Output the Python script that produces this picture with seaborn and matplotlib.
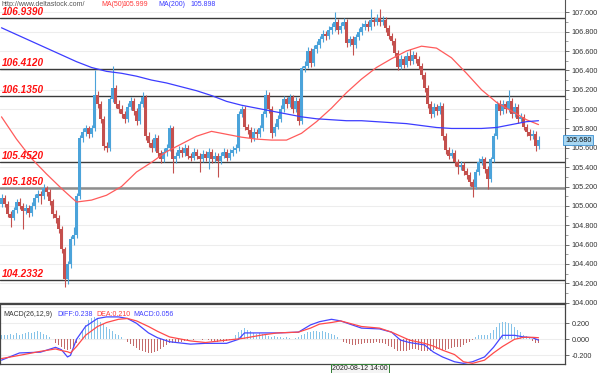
import numpy as np
import pandas as pd
import matplotlib
matplotlib.use("Agg")
import matplotlib.pyplot as plt
import seaborn as sns

# --- bougies (H1) : cloture, plus haut, plus bas ; ouverture = cloture precedente
first_open = 105.02
closes = [105.08, 105.02, 104.92, 104.88, 104.96, 105.04, 105.00, 104.95, 104.98, 104.93,
          105.00, 105.08, 105.12, 105.10, 105.18, 105.14, 105.05, 104.92, 104.88, 104.76,
          104.55, 104.24, 104.40, 104.66, 104.70, 105.10, 105.70, 105.76, 105.80, 105.74,
          105.80, 106.15, 106.05, 105.90, 105.62, 105.60, 106.10, 106.22, 106.05, 106.00,
          105.95, 105.90, 106.02, 106.08, 105.98, 105.88, 106.05, 106.12, 105.72, 105.65,
          105.60, 105.70, 105.55, 105.48, 105.56, 105.60, 105.80, 105.48, 105.52, 105.58,
          105.55, 105.60, 105.52, 105.50, 105.56, 105.52, 105.48, 105.54, 105.50, 105.56,
          105.48, 105.52, 105.46, 105.52, 105.56, 105.50, 105.55, 105.58, 105.60, 105.95,
          106.00, 105.82, 105.78, 105.70, 105.76, 105.74, 105.80, 105.95, 106.15, 106.00,
          105.75, 105.82, 105.90, 106.00, 106.10, 106.05, 106.12, 106.00, 106.08, 105.88,
          106.42, 106.45, 106.60, 106.48, 106.62, 106.66, 106.72, 106.78, 106.75, 106.82,
          106.85, 106.90, 106.82, 106.86, 106.90, 106.68, 106.72, 106.66, 106.74, 106.80,
          106.85, 106.88, 106.85, 106.92, 106.90, 106.94, 106.90, 106.92, 106.84, 106.76,
          106.70, 106.58, 106.44, 106.52, 106.46, 106.55, 106.50, 106.56, 106.52, 106.45,
          106.35, 106.22, 106.05, 105.95, 106.02, 105.98, 106.03, 105.72, 105.58, 105.52,
          105.55, 105.45, 105.40, 105.42, 105.36, 105.32, 105.25, 105.20, 105.35, 105.45,
          105.48, 105.38, 105.28, 105.48, 105.72, 106.05, 105.98, 106.05, 106.00, 106.08,
          105.95, 106.02, 105.90, 105.92, 105.82, 105.76, 105.72, 105.74, 105.62, 105.68]
highs = [105.12, 105.11, 105.05, 104.95, 104.99, 105.07, 105.08, 105.03, 105.02, 105.01,
         105.04, 105.12, 105.16, 105.15, 105.23, 105.21, 105.17, 105.07, 104.96, 104.91,
         104.79, 104.58, 104.43, 104.69, 104.78, 105.13, 105.73, 105.80, 105.84, 105.83,
         105.84, 106.40, 106.19, 106.08, 105.93, 105.66, 106.13, 106.45, 106.25, 106.09,
         106.04, 105.98, 106.06, 106.12, 106.11, 106.01, 106.08, 106.18, 106.15, 105.76,
         105.69, 105.74, 105.73, 105.58, 105.60, 105.64, 105.84, 105.83, 105.56, 105.62,
         105.61, 105.64, 105.63, 105.55, 105.60, 105.59, 105.55, 105.58, 105.57, 105.60,
         105.59, 105.56, 105.55, 105.56, 105.60, 105.59, 105.59, 105.62, 105.64, 105.98,
         106.03, 106.03, 105.85, 105.81, 105.80, 105.79, 105.84, 105.98, 106.20, 106.18,
         106.03, 105.86, 105.94, 106.04, 106.14, 106.13, 106.16, 106.15, 106.12, 106.11,
         106.45, 106.50, 106.64, 106.63, 106.66, 106.70, 106.76, 106.82, 106.81, 106.86,
         106.89, 107.00, 106.93, 106.90, 106.94, 106.93, 106.76, 106.75, 106.78, 106.84,
         106.89, 106.92, 106.91, 107.03, 106.95, 106.98, 107.03, 106.96, 106.95, 106.87,
         106.79, 106.73, 106.61, 106.56, 106.55, 106.59, 106.62, 106.60, 106.59, 106.55,
         106.48, 106.38, 106.25, 106.08, 106.06, 106.05, 106.07, 106.06, 105.75, 105.61,
         105.59, 105.58, 105.48, 105.46, 105.45, 105.39, 105.35, 105.28, 105.38, 105.49,
         105.52, 105.51, 105.41, 105.51, 105.75, 106.08, 106.09, 106.09, 106.08, 106.20,
         106.11, 106.06, 106.05, 105.96, 105.95, 105.85, 105.79, 105.78, 105.77, 105.72]
lows = [104.99, 104.99, 104.89, 104.78, 104.85, 104.93, 104.97, 104.76, 104.92, 104.89,
        104.90, 104.97, 105.04, 105.02, 105.07, 105.10, 105.01, 104.88, 104.82, 104.72,
        104.51, 104.16, 104.19, 104.36, 104.60, 104.67, 105.07, 105.66, 105.72, 105.70,
        105.71, 105.77, 106.01, 105.86, 105.58, 105.56, 105.57, 106.07, 106.01, 105.96,
        105.91, 105.86, 105.87, 105.99, 105.94, 105.84, 105.85, 106.02, 105.68, 105.61,
        105.56, 105.57, 105.51, 105.44, 105.45, 105.52, 105.57, 105.34, 105.44, 105.49,
        105.51, 105.52, 105.48, 105.46, 105.47, 105.48, 105.35, 105.45, 105.46, 105.38,
        105.44, 105.45, 105.30, 105.43, 105.49, 105.46, 105.47, 105.52, 105.55, 105.57,
        105.92, 105.78, 105.74, 105.66, 105.67, 105.70, 105.71, 105.77, 105.92, 105.96,
        105.70, 105.72, 105.79, 105.87, 105.97, 106.01, 106.02, 105.96, 105.97, 105.84,
        105.85, 106.38, 106.42, 106.44, 106.45, 106.58, 106.63, 106.69, 106.71, 106.72,
        106.78, 106.81, 106.78, 106.79, 106.83, 106.64, 106.65, 106.56, 106.63, 106.71,
        106.77, 106.82, 106.81, 106.82, 106.86, 106.87, 106.86, 106.87, 106.80, 106.72,
        106.66, 106.54, 106.40, 106.41, 106.42, 106.43, 106.46, 106.47, 106.48, 106.41,
        106.31, 106.18, 106.01, 105.91, 105.92, 105.94, 105.95, 105.68, 105.54, 105.48,
        105.49, 105.41, 105.33, 105.37, 105.32, 105.28, 105.21, 105.09, 105.17, 105.32,
        105.42, 105.34, 105.17, 105.25, 105.45, 105.69, 105.94, 105.95, 105.96, 105.97,
        105.91, 105.92, 105.86, 105.87, 105.78, 105.72, 105.68, 105.69, 105.57, 105.59]

# moyennes mobiles, relevees toutes les 5 bougies
ma_bars = list(range(0, 180, 5)) + [179]
ma50 = [105.92, 105.69, 105.49, 105.33, 105.18, 105.04, 105.06, 105.11, 105.20, 105.35,
        105.45, 105.56, 105.64, 105.72, 105.77, 105.74, 105.71, 105.69, 105.68, 105.68,
        105.75, 105.87, 106.01, 106.17, 106.31, 106.43, 106.52, 106.60, 106.65, 106.63,
        106.53, 106.37, 106.20, 106.07, 105.98, 105.89, 105.84]
ma200 = [106.84, 106.77, 106.70, 106.63, 106.56, 106.49, 106.43, 106.39, 106.37, 106.34,
         106.30, 106.27, 106.23, 106.19, 106.14, 106.08, 106.04, 106.01, 105.98, 105.95,
         105.92, 105.90, 105.89, 105.88, 105.88, 105.87, 105.86, 105.85, 105.83, 105.81,
         105.80, 105.80, 105.80, 105.81, 105.84, 105.87, 105.88]

# MACD(26,12,9)
macd_bars = [0, 6, 13, 18, 20, 22, 23, 25, 28, 32, 35, 39, 42, 45, 49, 52, 56, 63, 68, 75,
             79, 81, 87, 92, 99, 103, 106, 110, 113, 120, 126, 130, 133, 136, 141, 144, 147,
             151, 154, 157, 161, 164, 167, 171, 174, 177, 179]
diff = [-0.26, -0.17, -0.16, -0.10, -0.13, -0.22, -0.20, 0.00, 0.16, 0.26, 0.28, 0.28, 0.26,
        0.20, 0.08, 0.02, -0.03, -0.06, -0.05, -0.05, 0.00, 0.08, 0.08, 0.08, 0.09, 0.18,
        0.22, 0.25, 0.23, 0.14, 0.13, 0.09, -0.01, -0.04, -0.07, -0.16, -0.22, -0.28, -0.30,
        -0.28, -0.22, -0.10, 0.05, 0.05, 0.03, 0.02, -0.01]
dea = [-0.24, -0.20, -0.15, -0.12, -0.14, -0.155, -0.17, -0.09, 0.05, 0.16, 0.21, 0.25, 0.26,
       0.23, 0.16, 0.10, 0.03, -0.02, -0.04, -0.01, 0.005, 0.015, 0.055, 0.08, 0.09, 0.14,
       0.19, 0.21, 0.23, 0.16, 0.14, 0.09, 0.04, -0.01, -0.05, -0.085, -0.135, -0.19, -0.28,
       -0.30, -0.26, -0.17, -0.09, 0.00, 0.025, 0.025, 0.02]
hist = [0.05, 0.06, 0.05, 0.07, 0.06, 0.08, 0.06,
        0.07, 0.08, 0.09, 0.08, 0.09, 0.10, 0.09,
        0.07, 0.05, 0.03, 0.01,
        -0.04, -0.07, -0.10, -0.12, -0.13, -0.12, -0.09, -0.05,
        0.02, 0.10, 0.18, 0.24, 0.27, 0.28, 0.26,
        0.22, 0.19, 0.16, 0.13, 0.10, 0.07,
        0.05, 0.03, 0.01,
        -0.03, -0.06, -0.08, -0.11, -0.13, -0.15, -0.16, -0.17, -0.17, -0.16, -0.14, -0.12,
        -0.09, -0.07, -0.05,
        -0.04, -0.04, -0.03, -0.03, -0.02,
        -0.01, 0.01, -0.01, 0.01, 0.00, -0.01, 0.01, -0.01, -0.02,
        -0.02, -0.03, -0.02, -0.03, -0.02, -0.01, 0.01,
        0.05, 0.09, 0.12, 0.14, 0.12, 0.10, 0.08, 0.07, 0.08,
        0.07, 0.05,
        0.04, 0.03, 0.04, 0.03, 0.03, 0.02, 0.03, 0.02, 0.01, 0.02, 0.03,
        0.05, 0.07, 0.09,
        0.09, 0.10, 0.10, 0.09, 0.10, 0.09, 0.08, 0.07,
        0.05, 0.03, 0.01,
        -0.03, -0.05, -0.06, -0.07, -0.07, -0.06, -0.06, -0.05, -0.05, -0.04, -0.04, -0.03,
        -0.04, -0.05, -0.06, -0.08, -0.10, -0.12, -0.14,
        -0.15, -0.15, -0.14, -0.13, -0.12, -0.12, -0.13, -0.14, -0.15, -0.15, -0.14, -0.13,
        -0.12, -0.12, -0.13, -0.13, -0.12, -0.11, -0.10, -0.10, -0.09, -0.07, -0.05, -0.03,
        -0.01,
        0.03, 0.05, 0.06, 0.05, 0.06, 0.08,
        0.12, 0.16, 0.20, 0.22, 0.22, 0.21, 0.19, 0.16,
        0.12, 0.09, 0.06, 0.04, 0.02,
        -0.02, -0.04, -0.05]

# niveaux horizontaux
levels = [106.9390, 106.4120, 106.1350, 105.4520, 105.1850, 104.2332]
level_labels = ["106.9390", "106.4120", "106.1350", "105.4520", "105.1850", "104.2332"]
price_ticks = [104.0, 104.2, 104.4, 104.6, 104.8, 105.0, 105.2, 105.4, 105.6, 105.8,
               106.0, 106.2, 106.4, 106.6, 106.8, 107.0]
macd_ticks = [-0.2, 0.0, 0.2]
last_price = 105.680
cursor_label = "2020-08-12 14:00"

assert len(closes) == len(highs) == len(lows) == len(hist) == 180

sns.set_theme(style="white")
plt.rcParams['font.family'] = ['Liberation Sans', 'DejaVu Sans']
narrow = ['Liberation Sans Narrow', 'Liberation Sans', 'DejaVu Sans']

n = len(closes)
bars = np.arange(n)
opens = [first_open] + closes[:-1]
df = pd.DataFrame({"bar": bars, "open": opens, "close": closes, "high": highs, "low": lows})

up_col = '#4ba3da'
dn_col = '#c4504e'

fig = plt.figure(figsize=(6, 3.73), dpi=100)
ax = fig.add_axes([0, 1 - 303 / 373, 565 / 600, 303 / 373])
axm = fig.add_axes([0, 1 - 364 / 373, 565 / 600, 60 / 373])

# ---- pane principal
for y in price_ticks:
    ax.axhline(y, color='#ededed', lw=0.8, zorder=0)

for _, r in df.iterrows():
    col = up_col if r["close"] >= r["open"] else dn_col
    ax.vlines(r["bar"], r["low"], r["high"], color=col, lw=0.8, zorder=2)
    h = max(abs(r["close"] - r["open"]), 0.008)
    ax.bar(r["bar"], h, bottom=min(r["open"], r["close"]), width=0.7, color=col,
           linewidth=0, zorder=3)

sns.lineplot(x=ma_bars, y=ma50, ax=ax, color='#ff5b5b', lw=0.9, zorder=4)
sns.lineplot(x=ma_bars, y=ma200, ax=ax, color='#3c3cff', lw=0.9, zorder=4)

for lv, lab in zip(levels, level_labels):
    if lab == "105.1850":
        ax.axhline(lv, color='#8e8e8e', lw=1.8, zorder=1)
    else:
        ax.axhline(lv, color='#3a3a3a', lw=1.0, zorder=1)
    ax.text(0.004, lv + 0.034, lab, transform=ax.get_yaxis_transform(), color='#ff1010',
            fontsize=7.2, fontweight='bold', style='italic', va='baseline', ha='left', zorder=5)

ax.set_xlim(-0.5, -0.5 + 565 / 3)
ax.set_ylim(103.997, 107.127)
ax.yaxis.tick_right()
ax.set_yticks(price_ticks)
ax.set_yticklabels([f"{t:.3f}" for t in price_ticks])
ax.set_yticks(np.arange(104.1, 107.1, 0.2), minor=True)
ax.tick_params(axis='y', which='major', labelsize=5.2, length=3, width=0.6, color='#555',
               labelcolor='#333', pad=1.5)
ax.tick_params(axis='y', which='minor', length=2, width=0.5, color='#777')
ax.set_xticks([])
ax.set_xlabel("")
ax.set_ylabel("")
for s in ["top", "left"]:
    ax.spines[s].set_visible(False)
ax.spines["right"].set_color('#555')
ax.spines["right"].set_linewidth(0.8)
ax.spines["bottom"].set_color('#444')
ax.spines["bottom"].set_linewidth(1.0)

ax.text(1.0, last_price, f"{last_price:.3f}", transform=ax.get_yaxis_transform(),
        fontsize=5.2, color='#111', va='center', ha='left', zorder=6, clip_on=False,
        bbox=dict(boxstyle='square,pad=0.25', facecolor='#a6d6f2', edgecolor='#3b8fd0', lw=0.6))

# en-tete
hy = 1 - 4 / 373
fig.text(2 / 600, hy, "http://www.deltastock.com/", fontsize=5.0, color='#555',
         va='center', ha='left')
fig.text(101 / 600, hy, "MA(50)", fontsize=5.0, color='#ff3a3a', va='center', family=narrow)
fig.text(122 / 600, hy, "105.999", fontsize=5.0, color='#ff3a3a', va='center', family=narrow)
fig.text(158 / 600, hy, "MA(200)", fontsize=5.0, color='#3a3aff', va='center', family=narrow)
fig.text(190 / 600, hy, "105.898", fontsize=5.0, color='#3a3aff', va='center', family=narrow)

# ---- pane MACD
for y in macd_ticks + [0.4]:
    axm.axhline(y, color='#ededed', lw=0.8, zorder=0)
hist_cols = ['#86c3e8' if v >= 0 else '#c46a6a' for v in hist]
axm.bar(bars, hist, width=0.4, color=hist_cols, linewidth=0, zorder=2)
sns.lineplot(x=macd_bars, y=diff, ax=axm, color='#4646ff', lw=0.9, zorder=3)
sns.lineplot(x=macd_bars, y=dea, ax=axm, color='#ff4a4a', lw=0.9, zorder=3)

axm.set_xlim(-0.5, -0.5 + 565 / 3)
axm.set_ylim(-0.308, 0.441)
axm.yaxis.tick_right()
axm.set_yticks(macd_ticks)
axm.set_yticklabels([f"{t:.3f}" for t in macd_ticks])
axm.tick_params(axis='y', labelsize=5.2, length=3, width=0.6, color='#555',
                labelcolor='#333', pad=1.5)
axm.set_xticks([])
axm.set_xlabel("")
axm.set_ylabel("")
for s in axm.spines.values():
    s.set_color('#444')
    s.set_linewidth(0.9)

my = 1 - 315 / 373
fig.text(3 / 600, my, "MACD(26,12,9)", fontsize=5.0, color='#333', va='center', family=narrow)
fig.text(57 / 600, my, "DIFF:0.238", fontsize=5.0, color='#4040ff', va='center', family=narrow)
fig.text(96 / 600, my, "DEA:0.210", fontsize=5.0, color='#ff3a3a', va='center', family=narrow)
fig.text(133 / 600, my, "MACD:0.056", fontsize=5.0, color='#4040ff', va='center', family=narrow)

# etiquette du curseur temporel
fig.text(360 / 600, 1 - 368.5 / 373, cursor_label, fontsize=5.0, color='#222', ha='center',
         va='center', bbox=dict(boxstyle='square,pad=0.2', facecolor='#f4f4f4',
                                edgecolor='#2f7d32', lw=0.7))

fig.savefig("out.png", dpi=100)
